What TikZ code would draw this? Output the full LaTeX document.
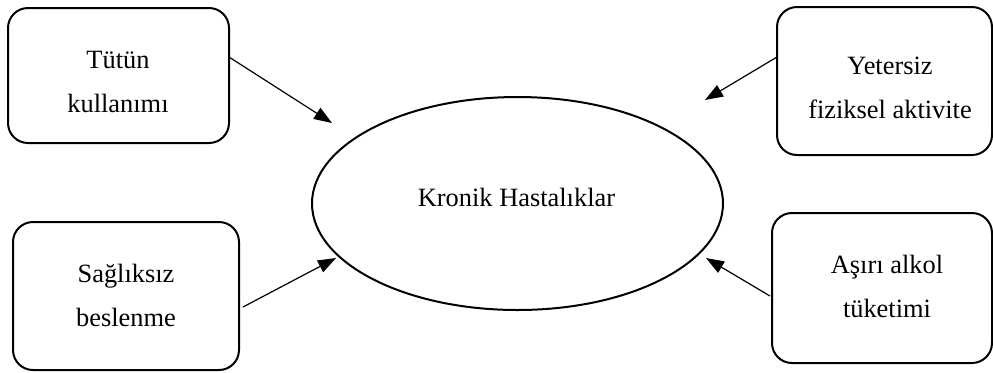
\documentclass[tikz,border=0pt]{standalone}
\usepackage{fontspec}
\setmainfont{Liberation Serif}
\usetikzlibrary{shapes.geometric,arrows.meta}
\begin{document}
\begin{tikzpicture}[x=0.5pt,y=-0.5pt,
  box/.style={draw,line width=1pt,rounded corners=10pt,inner sep=0pt,outer sep=0pt},
  lbl/.style={align=center,inner sep=0pt,font=\fontsize{13.2}{22}\selectfont},
  conn/.style={line width=0.6pt,-{Triangle[length=9pt,width=6.5pt]}}]
\useasboundingbox (0,0) rectangle (993,372);
% boxes
\node[box,minimum width=110.5pt,minimum height=67.5pt] (tl) at (118.5,75.5) {};
\node[box,minimum width=107.5pt,minimum height=74pt] (tr) at (884.5,81) {};
\node[box,minimum width=113pt,minimum height=74pt] (bl) at (126,296) {};
\node[box,minimum width=110pt,minimum height=75pt] (br) at (882,288) {};
% texts
\node[lbl] (tltxt) at (118,81.5) {Tütün\\kullanımı};
\node[lbl] (trtxt) at (890,88) {Yetersiz\\fiziksel aktivite};
\node[lbl] (bltxt) at (126,295.5) {Sağlıksız\\beslenme};
\node[lbl] (brtxt) at (887,286.5) {Aşırı alkol\\tüketimi};
% ellipse
\node[draw,ellipse,line width=1pt,minimum width=205.5pt,minimum height=106.5pt,inner sep=0pt] (kh) at (517.5,203.5) {};
\node[lbl] (khtxt) at (516.5,197) {Kronik Hastalıklar};
% arrow tips
\coordinate (t1) at (332,123);
\coordinate (t2) at (705,100);
\coordinate (t3) at (336,258);
\coordinate (t4) at (706,258);
% connectors
\draw[conn] ([yshift=9.25pt]tl.east) -- (t1);
\draw[conn] ([yshift=12pt]tr.west) -- (t2);
\draw[conn] ([xshift=2pt,yshift=-5.5pt]bl.east) -- (t3);
\draw[conn] ([xshift=-1pt,yshift=-4pt]br.west) -- (t4);
\end{tikzpicture}
\end{document}
